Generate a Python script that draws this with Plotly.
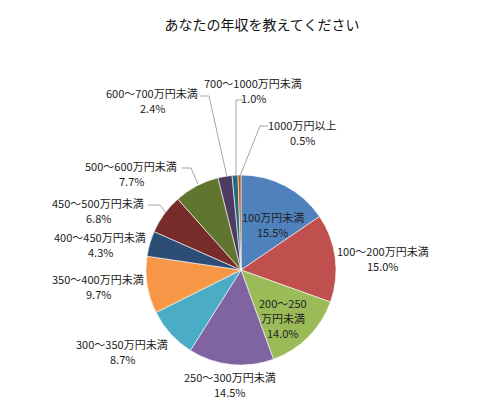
import plotly.graph_objects as go

# the page body has an 8px margin, so the figure sits 8px in from the corner
OFF = 8
W, H = 500 - OFF, 419 - OFF

title = 'あなたの年収を教えてください'
categories = ['100万円未満', '100～200万円未満', '200～250万円未満', '250～300万円未満',
              '300～350万円未満', '350～400万円未満', '400～450万円未満', '450～500万円未満',
              '500～600万円未満', '600～700万円未満', '700～1000万円未満', '1000万円以上']
shares = [15.5, 15.0, 14.0, 14.5, 8.7, 9.7, 4.3, 6.8, 7.7, 2.4, 1.0, 0.5]
colors = ['#4F81BD', '#C0504D', '#9BBB59', '#8064A2', '#4BACC6', '#F79646',
          '#2C4D75', '#772C2A', '#5F7530', '#4D3B62', '#276A7C', '#B65708']

# label lines (category name split where excel wrapped it)
label_names = [['100万円未満'], ['100～200万円未満'], ['200～250', '万円未満'], ['250～300万円未満'],
               ['300～350万円未満'], ['350～400万円未満'], ['400～450万円未満'], ['450～500万円未満'],
               ['500～600万円未満'], ['600～700万円未満'], ['700～1000万円未満'], ['1000万円以上']]

# y of the first label line and x centre, in screen pixels (layout)
label_pos = [(273, 217), (383, 251), (283, 303), (230, 377), (122, 344), (98, 279),
             (100, 237), (98, 203), (131, 166), (152, 93), (253, 83), (302, 125)]
LINE = 15

# leader lines in screen pixels (layout)
leaders = [
    [(148, 205), (160, 205), (166, 213)],
    [(182, 168), (191, 168), (198, 184)],
    [(200, 96), (209, 96), (227, 177)],
    [(243, 100), (236, 100), (236, 176)],
    [(268, 126), (260, 126), (240, 176)],
]

cx, cy, r = 241, 270, 95


def px(x, y):
    return (x - OFF) / W, 1 - (y - OFF) / H


fig = go.Figure(go.Pie(
    labels=categories, values=shares, sort=False, direction='clockwise', rotation=0,
    marker=dict(colors=colors, line=dict(color='white', width=0.6)),
    textinfo='none', hoverinfo='label+percent', showlegend=False,
    domain=dict(x=[px(cx - r, 0)[0], px(cx + r, 0)[0]], y=[px(0, cy + r)[1], px(0, cy - r)[1]]),
))

for lines, v, (x, y) in zip(label_names, shares, label_pos):
    for i, t in enumerate(lines + [f'{v:.1f}%']):
        ax, ay = px(x, y + i * LINE)
        fig.add_annotation(x=ax, y=ay, xref='paper', yref='paper', showarrow=False,
                           text=t, xanchor='center', yanchor='middle',
                           font=dict(size=11, color='#222222'))

for pts in leaders:
    path = ''
    for i, (x, y) in enumerate(pts):
        a, b = px(x, y)
        path += ('M' if i == 0 else ' L') + f' {a} {b}'
    fig.add_shape(type='path', path=path, xref='paper', yref='paper',
                  line=dict(color='#A6A6A6', width=1))

fig.update_layout(
    width=W, height=H, margin=dict(l=0, r=0, t=0, b=0),
    paper_bgcolor='white', plot_bgcolor='white',
    font=dict(family='Noto Sans CJK JP'),
    title=dict(text=title, x=px(262, 0)[0], y=px(0, 25)[1], xanchor='center', yanchor='middle',
               font=dict(size=14, color='#111111')),
)

fig.write_html('out.html')
